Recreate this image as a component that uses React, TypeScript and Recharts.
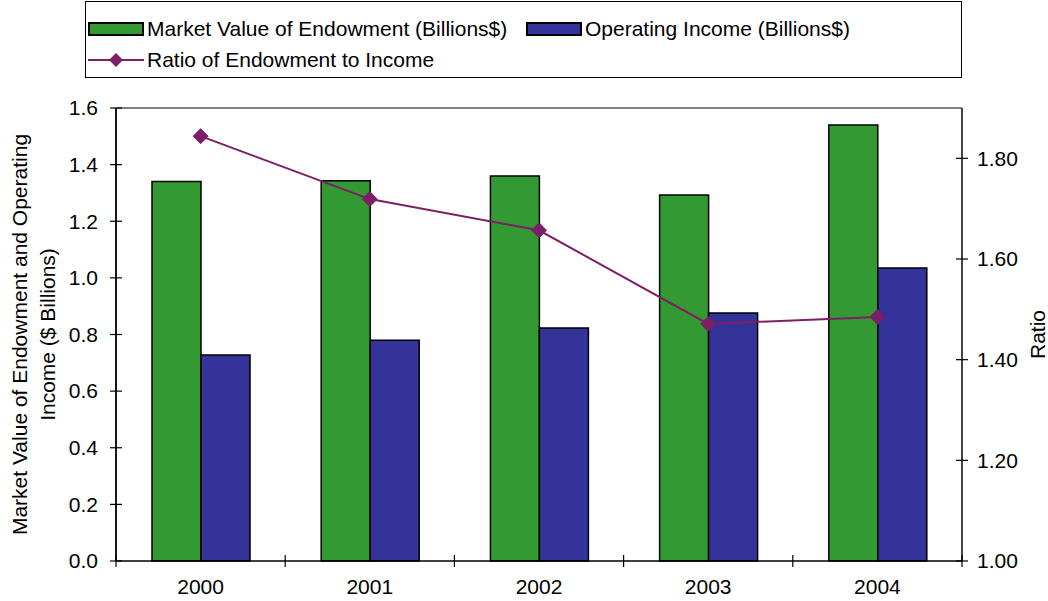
import React from "react";
import { ComposedChart, Bar, Line, XAxis, YAxis, ReferenceLine, Label } from "recharts";

const years = ["2000", "2001", "2002", "2003", "2004"];
const endowment = [1.34, 1.343, 1.36, 1.293, 1.54];
const income = [0.728, 0.78, 0.823, 0.876, 1.035];
const ratio = [1.844, 1.719, 1.657, 1.471, 1.485];
const leftTicks = [0, 0.2, 0.4, 0.6, 0.8, 1.0, 1.2, 1.4, 1.6];
const rightTicks = [1.0, 1.2, 1.4, 1.6, 1.8];

const GREEN = "#339933";
const BLUE = "#333399";
const PURPLE = "#7D1F66";
const FONT = "'Liberation Sans', Arial, sans-serif";
const FS = 21;
const TICK = 6;
const LEFT_MARGIN = 12;
const RIGHT_MARGIN = 9;
const X_MARGIN = 11;

const data = years.map((year, i) => ({
  year,
  endowment: endowment[i],
  income: income[i],
  ratio: ratio[i],
}));

function LeftTick(props: any) {
  const { x, y, payload } = props;
  const ax = x + TICK + LEFT_MARGIN;
  return (
    <g>
      <line x1={ax - TICK} x2={ax + TICK} y1={y} y2={y} stroke="#000" strokeWidth={1.2} />
      <text x={x} y={y} dy="0.35em" textAnchor="end" fill="#000" fontSize={FS} fontFamily={FONT}>
        {Number(payload.value).toFixed(1)}
      </text>
    </g>
  );
}

function RightTick(props: any) {
  const { x, y, payload } = props;
  const ax = x - TICK - RIGHT_MARGIN;
  return (
    <g>
      <line x1={ax - TICK} x2={ax + TICK} y1={y} y2={y} stroke="#000" strokeWidth={1.2} />
      <text x={x} y={y} dy="0.35em" textAnchor="start" fill="#000" fontSize={FS} fontFamily={FONT}>
        {Number(payload.value).toFixed(2)}
      </text>
    </g>
  );
}

function CategoryTick(props: any) {
  const { x, y, payload, index, visibleTicksCount } = props;
  const ay = y - TICK - X_MARGIN;
  const half = payload.offset || 84.6;
  const last = index === visibleTicksCount - 1;
  return (
    <g>
      <line x1={x - half} x2={x - half} y1={ay - TICK} y2={ay + TICK} stroke="#000" strokeWidth={1.2} />
      {last && (
        <line x1={x + half} x2={x + half} y1={ay - TICK} y2={ay + TICK} stroke="#000" strokeWidth={1.2} />
      )}
      <text x={x} y={y} dy="0.75em" textAnchor="middle" fill="#000" fontSize={FS} fontFamily={FONT}>
        {payload.value}
      </text>
    </g>
  );
}

function Diamond(props: any) {
  const { cx, cy } = props;
  if (cx == null || cy == null) return null;
  const r = 7.5;
  return (
    <polygon
      points={`${cx},${cy - r} ${cx + r},${cy} ${cx},${cy + r} ${cx - r},${cy}`}
      fill={PURPLE}
      stroke={PURPLE}
    />
  );
}

function LeftTitle(props: any) {
  const vb = props.viewBox || { x: 0, y: 108, width: 116, height: 453 };
  const cy = vb.y + vb.height / 2;
  const x1 = vb.x + 20;
  const x2 = vb.x + 48;
  return (
    <g fontSize={FS} fontFamily={FONT} fill="#000">
      <text x={x1} y={cy} textAnchor="middle" dy="0.35em" transform={`rotate(-90 ${x1} ${cy})`}>
        Market Value of Endowment and Operating
      </text>
      <text x={x2} y={cy} textAnchor="middle" dy="0.35em" transform={`rotate(-90 ${x2} ${cy})`}>
        Income ($ Billions)
      </text>
    </g>
  );
}

function RightTitle(props: any) {
  const vb = props.viewBox || { x: 962, y: 108, width: 86, height: 453 };
  const cy = vb.y + vb.height / 2;
  const x = vb.x + vb.width - 10;
  return (
    <text x={x} y={cy} textAnchor="middle" dy="0.35em" fontSize={FS} fontFamily={FONT} fill="#000"
      transform={`rotate(-90 ${x} ${cy})`}>
      Ratio
    </text>
  );
}

function Swatch({ color }: { color: string }) {
  return (
    <svg width={56} height={14} style={{ display: "block" }}>
      <rect x={1} y={1} width={54} height={12} fill={color} stroke="#000" strokeWidth={2} />
    </svg>
  );
}

function LineSwatch() {
  return (
    <svg width={56} height={16} style={{ display: "block" }}>
      <line x1={0} x2={56} y1={8} y2={8} stroke={PURPLE} strokeWidth={2} />
      <polygon points="28,1 35,8 28,15 21,8" fill={PURPLE} />
    </svg>
  );
}

function ChartLegend() {
  const item: React.CSSProperties = {
    position: "absolute",
    display: "flex",
    alignItems: "center",
    gap: 3,
    whiteSpace: "nowrap",
    lineHeight: "24px",
  };
  return (
    <div
      style={{
        position: "absolute",
        left: 85,
        top: 1,
        width: 877,
        height: 77,
        border: "1px solid #000",
        boxSizing: "border-box",
        fontSize: FS,
        fontFamily: FONT,
        color: "#000",
        background: "#fff",
      }}
    >
      <div style={{ ...item, left: 2, top: 15 }}>
        <Swatch color={GREEN} />
        <span>Market Value of Endowment (Billions$)</span>
      </div>
      <div style={{ ...item, left: 440, top: 15 }}>
        <Swatch color={BLUE} />
        <span>Operating Income (Billions$)</span>
      </div>
      <div style={{ ...item, left: 2, top: 46 }}>
        <LineSwatch />
        <span>Ratio of Endowment to Income</span>
      </div>
    </div>
  );
}

export default function App() {
  return (
    <div style={{ position: "absolute", left: 0, top: 0, width: 1048, height: 601, background: "#fff" }}>
      <ChartLegend />
      <ComposedChart
        width={1048}
        height={601}
        data={data}
        margin={{ top: 108, right: 0, bottom: 0, left: 0 }}
        barGap={0}
      >
        <XAxis
          dataKey="year"
          height={40}
          interval={0}
          tickSize={TICK}
          tickMargin={X_MARGIN}
          tickLine={false}
          tick={<CategoryTick />}
          axisLine={{ stroke: "#000", strokeWidth: 1.5 }}
        />
        <YAxis
          yAxisId="left"
          width={116}
          domain={[0, 1.6]}
          ticks={leftTicks}
          interval={0}
          tickSize={TICK}
          tickMargin={LEFT_MARGIN}
          tickLine={false}
          tick={<LeftTick />}
          axisLine={{ stroke: "#000", strokeWidth: 1.8 }}
        >
          <Label content={<LeftTitle />} />
        </YAxis>
        <YAxis
          yAxisId="right"
          orientation="right"
          width={86}
          domain={[1, 1.9]}
          ticks={rightTicks}
          interval={0}
          tickSize={TICK}
          tickMargin={RIGHT_MARGIN}
          tickLine={false}
          tick={<RightTick />}
          axisLine={{ stroke: "#444", strokeWidth: 2 }}
        >
          <Label content={<RightTitle />} />
        </YAxis>
        <ReferenceLine yAxisId="left" y={1.6} stroke="#808080" strokeWidth={2} />
        <Bar yAxisId="left" dataKey="endowment" fill={GREEN} stroke="#000" strokeWidth={1.5} barSize={49} isAnimationActive={false} />
        <Bar yAxisId="left" dataKey="income" fill={BLUE} stroke="#000" strokeWidth={1.5} barSize={49} isAnimationActive={false} />
        <Line
          yAxisId="right"
          dataKey="ratio"
          stroke={PURPLE}
          strokeWidth={2}
          dot={<Diamond />}
          activeDot={false}
          isAnimationActive={false}
        />
      </ComposedChart>
    </div>
  );
}
